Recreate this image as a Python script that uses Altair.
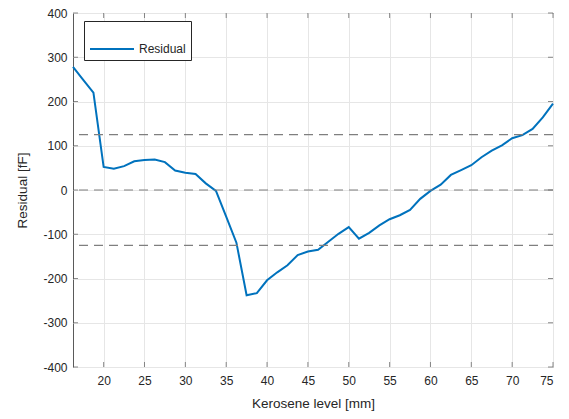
import altair as alt
import pandas as pd

# Data
level = [16.25, 17.5, 18.75, 20, 21.25, 22.5, 23.75, 25, 26.25, 27.5, 28.75, 30,
         31.25, 32.5, 33.75, 35, 36.25, 37.5, 38.75, 40, 41.25, 42.5, 43.75, 45,
         46.25, 47.5, 48.75, 50, 51.25, 52.5, 53.75, 55, 56.25, 57.5, 58.75, 60,
         61.25, 62.5, 63.75, 65, 66.25, 67.5, 68.75, 70, 71.25, 72.5, 73.75, 75]
residual = [278, 249, 220, 52, 48, 54, 65, 68, 69, 63, 44, 39,
            36, 15, -2, -60, -119, -238, -233, -204, -186, -170, -147, -139,
            -135, -117, -99, -84, -110, -97, -80, -66, -57, -45, -20, -2,
            12, 34, 45, 56, 74, 89, 101, 117, 124, 138, 164, 195]
thresholds = [125, 0, -125]
x_ticks = [20, 25, 30, 35, 40, 45, 50, 55, 60, 65, 70, 75]
y_ticks = [-400, -300, -200, -100, 0, 100, 200, 300, 400]
x_limits = [16.25, 75]
y_limits = [-400, 400]

FONT = "Liberation Sans"
AX = "#5a5a5a"
HYPHEN_LABEL = "replace(datum.label, '\u2212', '-')"

df = pd.DataFrame({"level": level, "residual": residual, "series": "Residual"})
x_scale = alt.Scale(domain=x_limits, nice=False, zero=False)
y_scale = alt.Scale(domain=y_limits, nice=False, zero=False)

line = alt.Chart(df).mark_line(strokeWidth=2).encode(
    x=alt.X("level:Q", scale=x_scale,
            axis=alt.Axis(values=x_ticks, title="Kerosene level [mm]",
                          titleY=36, titleBaseline="middle")),
    y=alt.Y("residual:Q", scale=y_scale,
            axis=alt.Axis(values=y_ticks, title="Residual [fF]",
                          titleX=-51, titleBaseline="middle",
                          labelExpr=HYPHEN_LABEL)),
    color=alt.Color("series:N", scale=alt.Scale(range=["#0072BD"]),
                    legend=alt.Legend(title=None, orient="none", legendX=11, legendY=8,
                                      symbolType="stroke", symbolSize=1936,
                                      symbolStrokeWidth=2, labelFont=FONT,
                                      labelFontSize=12, labelColor="#262626",
                                      labelOffset=4, padding=5,
                                      strokeColor="#262626", fillColor="white",
                                      cornerRadius=0)),
)

rules = alt.Chart(pd.DataFrame({"residual": thresholds})).mark_rule(
    strokeDash=[9, 6], color="#7f7f7f", strokeWidth=1.2
).encode(y=alt.Y("residual:Q", scale=y_scale))

bx = pd.DataFrame({"level": x_ticks})
bottom_ticks = alt.Chart(bx).mark_tick(orient="vertical", size=5, yOffset=-2.5,
                                       thickness=1, color=AX).encode(
    x=alt.X("level:Q", scale=x_scale), y=alt.YDatum(y_limits[0], scale=y_scale))
top_ticks = alt.Chart(bx).mark_tick(orient="vertical", size=5, yOffset=2.5,
                                    thickness=1, color=AX).encode(
    x=alt.X("level:Q", scale=x_scale), y=alt.YDatum(y_limits[1], scale=y_scale))
ly = pd.DataFrame({"residual": y_ticks})
left_ticks = alt.Chart(ly).mark_tick(orient="horizontal", size=5, xOffset=2.5,
                                     thickness=1, color=AX).encode(
    y=alt.Y("residual:Q", scale=y_scale), x=alt.XDatum(x_limits[0], scale=x_scale))
right_ticks = alt.Chart(ly).mark_tick(orient="horizontal", size=5, xOffset=-2.5,
                                      thickness=1, color=AX).encode(
    y=alt.Y("residual:Q", scale=y_scale), x=alt.XDatum(x_limits[1], scale=x_scale))

chart = alt.layer(line, rules, bottom_ticks, top_ticks, left_ticks, right_ticks).properties(
    width=480, height=354,
    padding={"left": 65, "top": 5, "right": 8, "bottom": 44},
    autosize="none",
).configure_view(
    stroke=AX, strokeWidth=1
).configure_axis(
    labelFont=FONT, labelFontSize=12, labelColor="#262626",
    titleFont=FONT, titleFontSize=13.5, titleColor="#262626", titleFontWeight="normal",
    tickSize=0, domain=False, grid=True, gridColor="#e6e6e6", gridWidth=1,
    labelPadding=8,
).configure_axisY(labelPadding=6)

chart.save("out.html", embed_options={"renderer": "svg", "actions": False})
